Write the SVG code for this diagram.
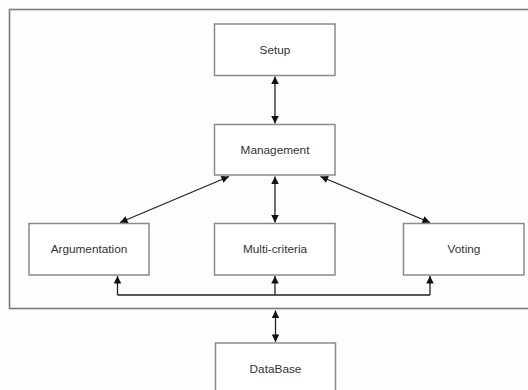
<svg xmlns="http://www.w3.org/2000/svg" width="528" height="390" viewBox="0 0 528 390">
<style>
.box{fill:#fff;stroke:#8a8a8a;stroke-width:1.5}
.lbl{font-family:"Liberation Sans",Arial,sans-serif;font-size:11.8px;fill:#333;text-anchor:middle;dominant-baseline:central}
.ln{fill:none;stroke:#222;stroke-width:1.3}
</style>
<defs>
<marker id="ah" viewBox="0 0 10 10" refX="10" refY="5" markerWidth="9" markerHeight="7.5" markerUnits="userSpaceOnUse" orient="auto-start-reverse">
<path d="M0,0 L10,5 L0,10 z" fill="#111"/>
</marker>
</defs>
<rect width="528" height="390" fill="#fdfdfd"/>
<rect id="frame" x="9.5" y="9.5" width="522" height="299" fill="#fdfdfd" stroke="#7a7a7a" stroke-width="1.6"/>
<g id="setup"><rect class="box" x="214.5" y="24" width="120.5" height="51.5"/><text class="lbl" x="275" y="49.5">Setup</text></g>
<g id="management"><rect class="box" x="214.5" y="124.5" width="120.5" height="50.5"/><text class="lbl" x="275" y="149.5">Management</text></g>
<g id="argumentation"><rect class="box" x="29" y="223.5" width="120" height="51.5"/><text class="lbl" x="89" y="249">Argumentation</text></g>
<g id="multicriteria"><rect class="box" x="214.5" y="223.5" width="120.5" height="51.5"/><text class="lbl" x="275" y="249">Multi-criteria</text></g>
<g id="voting"><rect class="box" x="403.5" y="223.5" width="120.5" height="51.5"/><text class="lbl" x="464" y="249">Voting</text></g>
<g id="database"><rect class="box" x="215.5" y="343" width="120" height="52"/><text class="lbl" x="275.5" y="369">DataBase</text></g>
<g id="connectors">
<line class="ln" x1="275" y1="76.5" x2="275" y2="123.5" marker-start="url(#ah)" marker-end="url(#ah)"/>
<line class="ln" x1="229" y1="176.5" x2="120" y2="222.5" marker-start="url(#ah)" marker-end="url(#ah)"/>
<line class="ln" x1="275" y1="176.5" x2="275" y2="222.5" marker-start="url(#ah)" marker-end="url(#ah)"/>
<line class="ln" x1="320.5" y1="176.5" x2="430" y2="222.5" marker-start="url(#ah)" marker-end="url(#ah)"/>
<polyline class="ln" points="117.5,295 430,295"/>
<line class="ln" x1="117.5" y1="295" x2="117.5" y2="276" marker-end="url(#ah)"/>
<line class="ln" x1="275" y1="295" x2="275" y2="276" marker-end="url(#ah)"/>
<line class="ln" x1="430" y1="295" x2="430" y2="276" marker-end="url(#ah)"/>
<line class="ln" x1="275.5" y1="310.5" x2="275.5" y2="342" marker-start="url(#ah)" marker-end="url(#ah)"/>
</g>
</svg>
